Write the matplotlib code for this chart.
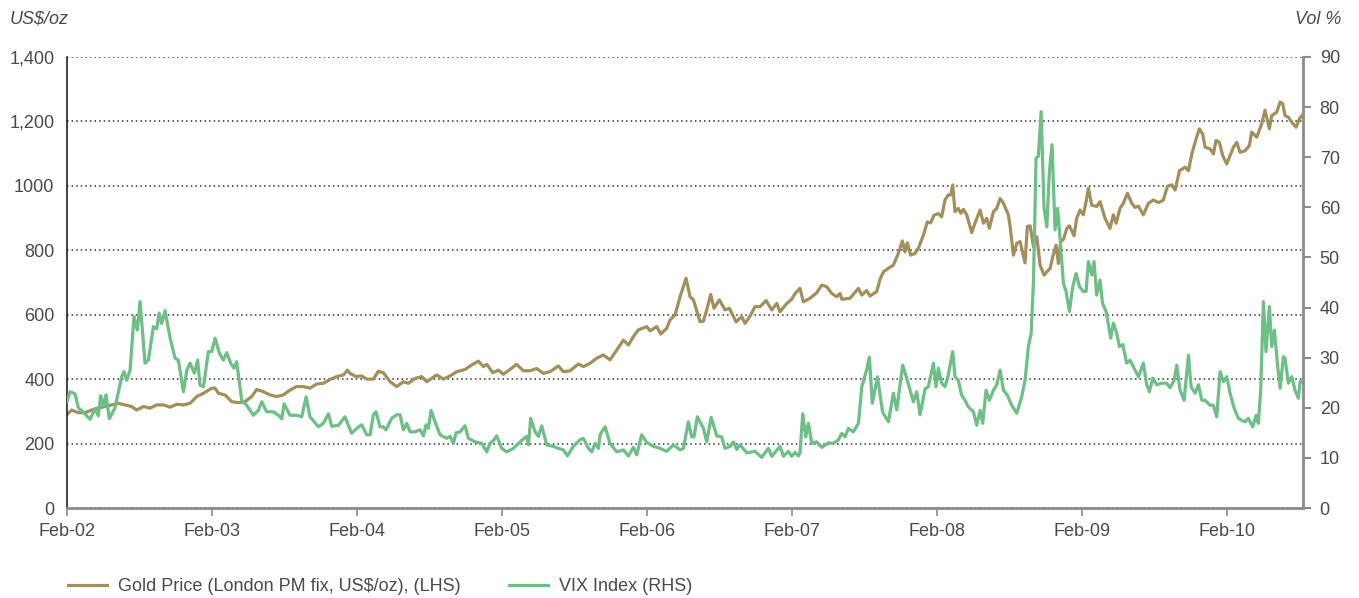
import matplotlib
matplotlib.use('Agg')
import matplotlib.pyplot as plt

# Gold price, London PM fix (US$/oz), time in decimal years
gold_t = [
    2002.083, 2002.115, 2002.161, 2002.207, 2002.253, 2002.299, 2002.345, 2002.391, 2002.437, 2002.483, 2002.529,
    2002.564, 2002.610, 2002.656, 2002.702, 2002.748, 2002.794, 2002.840, 2002.886, 2002.932, 2002.978,
    2003.024, 2003.081, 2003.104, 2003.127, 2003.173, 2003.219, 2003.265, 2003.311, 2003.357, 2003.391, 2003.437,
    2003.483, 2003.529, 2003.575, 2003.621, 2003.667, 2003.713, 2003.759, 2003.805, 2003.851, 2003.897, 2003.943, 2003.989,
    2004.017, 2004.035, 2004.076, 2004.115, 2004.150, 2004.196, 2004.230, 2004.265, 2004.311, 2004.357, 2004.403,
    2004.437, 2004.483, 2004.529, 2004.564, 2004.633, 2004.679, 2004.725, 2004.771, 2004.828, 2004.874, 2004.920,
    2004.955, 2004.978,
    2005.019, 2005.058, 2005.092, 2005.138, 2005.184, 2005.230, 2005.276, 2005.322, 2005.368, 2005.414, 2005.472,
    2005.506, 2005.552, 2005.610, 2005.644, 2005.690, 2005.736, 2005.782, 2005.828, 2005.874, 2005.920, 2005.955, 2005.989,
    2006.024, 2006.081, 2006.104, 2006.150, 2006.178, 2006.219, 2006.242, 2006.276, 2006.311, 2006.352, 2006.380,
    2006.403, 2006.449, 2006.472, 2006.495, 2006.522, 2006.545, 2006.582, 2006.621, 2006.651, 2006.697, 2006.736,
    2006.759, 2006.794, 2006.828, 2006.863, 2006.904, 2006.943, 2006.978,
    2007.000, 2007.047, 2007.081, 2007.104, 2007.138, 2007.161, 2007.207, 2007.253, 2007.288, 2007.322, 2007.357,
    2007.391, 2007.414, 2007.426, 2007.483, 2007.541, 2007.564, 2007.598, 2007.621, 2007.667, 2007.690, 2007.713,
    2007.747, 2007.782, 2007.816, 2007.844, 2007.862, 2007.878, 2007.901, 2007.931, 2007.954, 2007.989,
    2008.016, 2008.039, 2008.062, 2008.092, 2008.115, 2008.138, 2008.161, 2008.178, 2008.191, 2008.207, 2008.230,
    2008.247, 2008.265, 2008.288, 2008.322, 2008.345, 2008.380, 2008.403, 2008.426, 2008.444, 2008.472, 2008.495,
    2008.518, 2008.541, 2008.575, 2008.587, 2008.610, 2008.633, 2008.656, 2008.690, 2008.706, 2008.725, 2008.748,
    2008.771, 2008.794, 2008.821, 2008.840, 2008.863, 2008.881, 2008.904, 2008.920, 2008.936, 2008.955, 2008.978, 2008.996,
    2009.028, 2009.046, 2009.069, 2009.092, 2009.111, 2009.127, 2009.150, 2009.184, 2009.207, 2009.242, 2009.276,
    2009.299, 2009.318, 2009.345, 2009.368, 2009.396, 2009.426, 2009.449, 2009.472, 2009.506, 2009.541, 2009.575,
    2009.610, 2009.644, 2009.672, 2009.702, 2009.725, 2009.755, 2009.794, 2009.817, 2009.840, 2009.870, 2009.892,
    2009.915, 2009.932, 2009.966, 2009.989,
    2010.007, 2010.030, 2010.053, 2010.081, 2010.104, 2010.127, 2010.150, 2010.173, 2010.207, 2010.237, 2010.253,
    2010.288, 2010.322, 2010.345, 2010.375, 2010.391, 2010.426, 2010.449, 2010.467, 2010.483, 2010.506, 2010.529,
    2010.559, 2010.582, 2010.600,
]
gold_v = [
    290, 304, 296, 296, 304, 310, 315, 320, 325, 320, 315,
    304, 315, 310, 320, 320, 313, 322, 320, 325, 346,
    356, 372, 372, 356, 351, 330, 327, 330, 346, 368, 361,
    351, 346, 351, 366, 377, 377, 372, 385, 387, 399, 408, 413,
    428, 418, 408, 410, 400, 400, 424, 420, 392, 377, 392,
    387, 402, 408, 392, 413, 400, 410, 423, 430, 444, 456,
    439, 446,
    420, 428, 415, 430, 446, 426, 426, 433, 418, 423, 441,
    423, 426, 447, 439, 449, 465, 475, 460, 490, 521, 506, 532,
    553, 563, 550, 563, 540, 558, 584, 599, 656, 713, 656,
    646, 578, 580, 615, 663, 620, 646, 615, 620, 578, 594,
    573, 596, 625, 625, 644, 615, 635,
    609, 635, 648, 666, 682, 640, 651, 668, 692, 687, 666,
    656, 666, 648, 651, 682, 661, 675, 658, 672, 710, 733,
    744, 754, 790, 829, 795, 823, 785, 790, 806, 847,
    888, 885, 909, 914, 904, 956, 972, 972, 1003, 920, 930,
    915, 927, 910, 855, 884, 925, 884, 899, 868, 920, 930,
    961, 946, 910, 874, 785, 822, 827, 761, 874, 876, 811,
    842, 754, 723, 733, 744, 780, 816, 759, 827, 834, 868, 876,
    845, 899, 925, 910, 951, 993, 940, 936, 951, 899, 868,
    910, 884, 930, 946, 977, 946, 933, 937, 910, 946, 956,
    948, 956, 999, 1003, 987, 1047, 1058, 1047, 1099, 1146, 1177,
    1161, 1120, 1115, 1099,
    1141, 1135, 1094, 1068, 1094, 1120, 1135, 1104, 1109, 1125, 1167,
    1151, 1193, 1235, 1177, 1218, 1229, 1260, 1255, 1218, 1213, 1198,
    1182, 1208, 1218,
]

# VIX index (vol %), time in decimal years
vix_t = [
    2002.083, 2002.104, 2002.138, 2002.161, 2002.196, 2002.242, 2002.276, 2002.299, 2002.315, 2002.334, 2002.352,
    2002.375, 2002.414, 2002.460, 2002.476, 2002.495, 2002.518, 2002.545, 2002.568, 2002.587, 2002.621, 2002.644,
    2002.679, 2002.702, 2002.718, 2002.736, 2002.759, 2002.794, 2002.828, 2002.851, 2002.886, 2002.909, 2002.932,
    2002.961, 2002.984,
    2003.000, 2003.024, 2003.058, 2003.081, 2003.104, 2003.134, 2003.161, 2003.184, 2003.212, 2003.235, 2003.253,
    2003.288, 2003.322, 2003.368, 2003.403, 2003.426, 2003.460, 2003.506, 2003.541, 2003.564, 2003.580, 2003.621,
    2003.667, 2003.702, 2003.732, 2003.759, 2003.817, 2003.851, 2003.886, 2003.909, 2003.955,
    2004.000, 2004.046, 2004.081, 2004.115, 2004.150, 2004.173, 2004.196, 2004.214, 2004.242, 2004.265, 2004.283,
    2004.322, 2004.357, 2004.380, 2004.403, 2004.426, 2004.449, 2004.483, 2004.518, 2004.541, 2004.559, 2004.575,
    2004.594, 2004.621, 2004.656, 2004.702, 2004.725, 2004.748, 2004.766, 2004.794, 2004.828, 2004.851, 2004.897,
    2004.943, 2004.978,
    2005.000, 2005.028, 2005.046, 2005.081, 2005.115, 2005.161, 2005.207, 2005.253, 2005.265, 2005.281, 2005.311,
    2005.334, 2005.357, 2005.391, 2005.437, 2005.472, 2005.506, 2005.534, 2005.575, 2005.621, 2005.644, 2005.679,
    2005.702, 2005.725, 2005.748, 2005.759, 2005.794, 2005.828, 2005.874, 2005.920, 2005.955, 2005.989,
    2006.012, 2006.046, 2006.081, 2006.127, 2006.173, 2006.219, 2006.265, 2006.311, 2006.334, 2006.368, 2006.391,
    2006.407, 2006.430, 2006.472, 2006.495, 2006.525, 2006.564, 2006.598, 2006.621, 2006.656, 2006.679, 2006.702,
    2006.725, 2006.771, 2006.828, 2006.874, 2006.920, 2006.943,
    2007.000, 2007.024, 2007.058, 2007.081, 2007.104, 2007.127, 2007.138, 2007.157, 2007.178, 2007.196, 2007.219,
    2007.253, 2007.288, 2007.334, 2007.368, 2007.403, 2007.426, 2007.449, 2007.472, 2007.506, 2007.541, 2007.564,
    2007.598, 2007.616, 2007.637, 2007.672, 2007.708, 2007.748, 2007.782, 2007.805, 2007.846, 2007.874, 2007.920,
    2007.943, 2007.966,
    2008.001, 2008.023, 2008.058, 2008.076, 2008.092, 2008.115, 2008.138, 2008.161, 2008.191, 2008.207, 2008.230,
    2008.253, 2008.276, 2008.299, 2008.334, 2008.357, 2008.380, 2008.398, 2008.421, 2008.444, 2008.472, 2008.495,
    2008.518, 2008.541, 2008.568, 2008.598, 2008.633, 2008.667, 2008.690, 2008.713, 2008.732, 2008.748, 2008.766,
    2008.782, 2008.801, 2008.821, 2008.840, 2008.858, 2008.876, 2008.897, 2008.915, 2008.936, 2008.955, 2008.973,
    2008.996,
    2009.019, 2009.042, 2009.065, 2009.092, 2009.111, 2009.127, 2009.150, 2009.166, 2009.184, 2009.207, 2009.224,
    2009.249, 2009.281, 2009.299, 2009.322, 2009.341, 2009.364, 2009.391, 2009.414, 2009.442, 2009.472, 2009.506,
    2009.529, 2009.548, 2009.571, 2009.598, 2009.633, 2009.667, 2009.690, 2009.718, 2009.736, 2009.759, 2009.787,
    2009.817, 2009.835, 2009.863, 2009.886, 2009.909, 2009.932, 2009.966, 2009.989,
    2010.012, 2010.035, 2010.058, 2010.081, 2010.104, 2010.132, 2010.161, 2010.184, 2010.207, 2010.230, 2010.260,
    2010.283, 2010.299, 2010.315, 2010.334, 2010.352, 2010.375, 2010.391, 2010.410, 2010.430, 2010.449, 2010.472,
    2010.483, 2010.506, 2010.529, 2010.552, 2010.575, 2010.587, 2010.600,
]
vix_v = [
    21.2, 23.2, 22.8, 20.0, 19.1, 17.7, 19.8, 18.4, 22.4, 20.4, 22.6,
    17.8, 20.0, 26.2, 27.2, 25.5, 27.5, 38.2, 35.5, 41.2, 28.9, 29.5,
    36.2, 35.8, 38.9, 36.8, 39.4, 33.9, 29.9, 29.5, 23.2, 27.5, 28.9,
    26.9, 29.5,
    24.5, 24.2, 31.2, 31.2, 33.9, 30.9, 29.5, 31.0, 28.9, 27.9, 29.2,
    21.5, 20.5, 18.5, 19.5, 21.2, 19.2, 19.2, 18.5, 17.8, 20.8, 18.5,
    18.5, 18.2, 22.2, 18.2, 16.2, 16.9, 18.8, 16.3, 16.5,
    18.2, 14.9, 15.9, 16.6, 14.6, 14.6, 18.6, 19.2, 16.2, 16.2, 15.6,
    17.9, 18.6, 18.6, 15.6, 16.9, 15.2, 15.2, 15.6, 14.4, 16.6, 15.9,
    19.5, 17.2, 14.6, 13.9, 14.3, 12.9, 15.0, 15.2, 16.4, 13.9, 13.2,
    12.9, 11.2,
    12.9, 13.6, 14.4, 11.9, 11.2, 11.9, 13.2, 14.3, 12.6, 17.9, 15.2,
    14.3, 16.4, 12.6, 12.3, 11.9, 11.6, 10.4, 12.3, 13.6, 13.9, 11.9,
    11.2, 12.9, 11.9, 14.6, 16.2, 12.9, 11.2, 11.6, 10.4, 12.1,
    10.6, 14.6, 13.1, 12.3, 11.9, 11.3, 12.6, 11.6, 11.9, 17.2, 14.2,
    14.2, 18.2, 15.9, 13.2, 18.1, 14.4, 14.2, 11.9, 12.3, 13.2, 11.7,
    12.6, 11.0, 11.3, 10.1, 11.9, 10.3,
    12.3, 10.3, 11.3, 10.3, 11.1, 10.4, 11.0, 18.8, 14.2, 16.9, 12.9,
    13.2, 12.1, 13.0, 12.9, 13.6, 14.9, 14.2, 15.9, 15.2, 16.9, 24.2,
    27.6, 30.1, 20.9, 26.2, 19.1, 17.2, 22.9, 19.6, 28.5, 25.9, 21.2,
    23.2, 18.6,
    23.8, 24.2, 28.9, 24.2, 27.9, 24.9, 24.2, 26.6, 31.2, 26.2, 25.5,
    22.5, 21.5, 20.2, 19.2, 16.5, 19.5, 16.9, 23.5, 21.5, 23.5, 24.6,
    27.5, 23.5, 22.5, 20.5, 18.9, 22.2, 25.5, 32.2, 34.8, 45.2, 69.8,
    70.2, 79.1, 59.8, 56.1, 67.1, 72.5, 55.5, 59.8, 52.1, 44.8, 43.2,
    39.2,
    44.2, 46.8, 44.2, 43.2, 43.2, 49.2, 46.5, 49.2, 42.5, 45.5, 40.9,
    39.2, 33.9, 36.9, 34.9, 32.2, 32.6, 28.9, 29.5, 27.9, 26.2, 28.9,
    24.6, 23.2, 25.9, 24.6, 24.9, 24.9, 24.0, 25.5, 28.5, 23.5, 21.5,
    30.5, 24.2, 22.9, 24.6, 21.5, 21.5, 20.5, 20.5,
    18.2, 27.2, 25.2, 26.2, 22.9, 19.9, 17.9, 17.5, 17.2, 17.9, 16.2,
    18.5, 16.9, 23.5, 41.2, 31.2, 40.2, 32.2, 35.5, 28.9, 23.9, 30.2,
    29.9, 24.9, 26.2, 23.5, 21.9, 25.2, 25.2,
]

year_ticks = [2002.083 + i for i in range(9)]
year_labels = ['Feb-02', 'Feb-03', 'Feb-04', 'Feb-05', 'Feb-06', 'Feb-07', 'Feb-08', 'Feb-09', 'Feb-10']
gold_ticks = [0, 200, 400, 600, 800, 1000, 1200, 1400]
gold_labels = ['0', '200', '400', '600', '800', '1000', '1,200', '1,400']
vix_ticks = [0, 10, 20, 30, 40, 50, 60, 70, 80, 90]

gold_color = '#a38f5c'
vix_color = '#6dbf85'
text_color = '#4a4a4a'

plt.rcParams['font.family'] = ['Liberation Sans', 'DejaVu Sans']
plt.rcParams['font.size'] = 13

fig = plt.figure(figsize=(13.59, 5.98), dpi=100)
ax = fig.add_axes([0.0493, 0.1505, 0.9095, 0.7542])
ax2 = ax.twinx()

# gold on the left axis
gold_line, = ax.plot(gold_t, gold_v, color=gold_color, lw=2.3, solid_joinstyle='round')
ax.set_ylim(0, 1400)
ax.set_yticks(gold_ticks)
ax.set_yticklabels(gold_labels)
ax.set_xlim(2002.083, 2010.607)
ax.set_xticks(year_ticks)
ax.set_xticklabels(year_labels)
ax.grid(axis='y', color='#333333', linestyle=(0, (1, 2)), linewidth=1.1)
ax.set_axisbelow(True)

# VIX on the right axis
vix_line, = ax2.plot(vix_t, vix_v, color=vix_color, lw=2.3, solid_joinstyle='round')
ax2.set_ylim(0, 90)
ax2.set_yticks(vix_ticks)

# spines and ticks
for a in (ax, ax2):
    a.spines['top'].set_visible(False)
ax.spines['left'].set_color('#222222')
ax.spines['left'].set_linewidth(1.2)
ax.spines['bottom'].set_color('#8c8c8c')
ax.spines['bottom'].set_linewidth(2)
ax2.spines['right'].set_color('#8c8c8c')
ax2.spines['right'].set_linewidth(2)
ax2.spines['left'].set_visible(False)
ax2.spines['bottom'].set_visible(False)

ax.tick_params(axis='y', length=0, pad=9, labelcolor=text_color, labelsize=13)
ax.tick_params(axis='x', direction='out', length=6, width=1.2, color='#8c8c8c', pad=5,
               labelcolor=text_color, labelsize=13)
ax2.tick_params(axis='y', direction='out', length=6, width=1.5, color='#8c8c8c', pad=6,
                labelcolor=text_color, labelsize=13)

# axis unit captions
fig.text(0.007, 0.968, 'US$/oz', style='italic', color=text_color, fontsize=13, va='center', ha='left')
fig.text(0.987, 0.968, 'Vol %', style='italic', color=text_color, fontsize=13, va='center', ha='right')

fig.legend([gold_line, vix_line],
           ['Gold Price (London PM fix, US$/oz), (LHS)', 'VIX Index (RHS)'],
           loc='lower left', bbox_to_anchor=(0.0378, -0.022), ncol=2, frameon=False,
           handlelength=2.2, handletextpad=0.6, columnspacing=2.65, fontsize=13,
           labelcolor=text_color)

fig.savefig('out.png', dpi=100)
